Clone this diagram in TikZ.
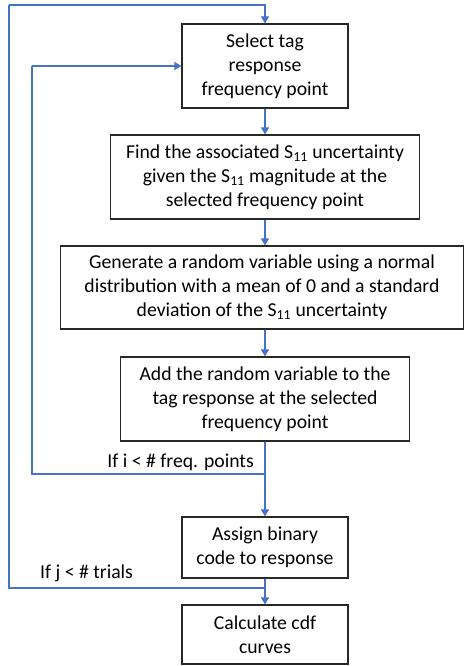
\documentclass[tikz,border=0pt]{standalone}
\usepackage{fontspec}
\setmainfont{Carlito}
\usepackage{tikz}
\usetikzlibrary{arrows.meta}
\definecolor{flowblue}{RGB}{68, 114, 196}
\definecolor{boxline}{RGB}{40, 40, 40}

\begin{document}
\begin{tikzpicture}[x=1pt, y=-1pt, font=\fontsize{19.7}{24}\selectfont,
  stepbox/.style={draw=boxline, line width=1.2pt, align=center, inner sep=0pt},
  flow/.style={draw=flowblue, line width=1.2pt, -{Triangle[width=8pt,length=7pt]}},
  loop/.style={draw=flowblue, line width=1.2pt}]
  \useasboundingbox (0, 0) rectangle (465, 666);

  % Steps
  \node [stepbox, minimum width=166pt, minimum height=84pt] (select) at (265, 66)
    {Select tag\\response\\frequency point};
  \node [stepbox, minimum width=309pt, minimum height=84pt] (find) at (265, 177)
    {Find the associated S\textsubscript{11} uncertainty\\given the S\textsubscript{11} magnitude at the\\selected frequency point};
  \node [stepbox, minimum width=403pt, minimum height=83pt] (generate) at (262, 287.5)
    {Generate a random variable using a normal\\distribution with a mean of 0 and a standard\\deviation of the S\textsubscript{11} uncertainty};
  \node [stepbox, minimum width=289pt, minimum height=84pt] (add) at (265, 399)
    {Add the random variable to the\\tag response at the selected\\frequency point};
  \node [stepbox, minimum width=166pt, minimum height=61pt] (assign) at (265, 547.5)
    {Assign binary\\code to response};
  \node [stepbox, minimum width=166pt, minimum height=59pt] (calc) at (265, 634.5)
    {Calculate cdf\\curves};

  % Main flow
  \draw [flow] (select) -- (find);
  \draw [flow] (find) -- (find |- generate.north);
  \draw [flow] (add |- generate.south) -- (add);
  \draw [flow] (add) -- (assign);
  \draw [flow] (assign) -- (calc);

  % Frequency loop
  \coordinate (freqsplit) at (265, 474);
  \coordinate (freqcorner) at (32, 66);
  \draw [loop] (freqsplit) -| (freqcorner);
  \draw [flow] (freqcorner) -- (select.west);
  \node [anchor=base east, inner sep=0pt] (freqlabel) at (254, 467) {If i < \# freq. points};

  % Trial loop
  \coordinate (trialsplit) at (265, 588);
  \coordinate (trialcorner) at (9, 5);
  \draw [loop] (trialsplit) -| (trialcorner);
  \draw [flow] (trialcorner) -| (select.north);
  \node [anchor=base west, inner sep=0pt] (triallabel) at (40, 578) {If j < \# trials};
\end{tikzpicture}
\end{document}
